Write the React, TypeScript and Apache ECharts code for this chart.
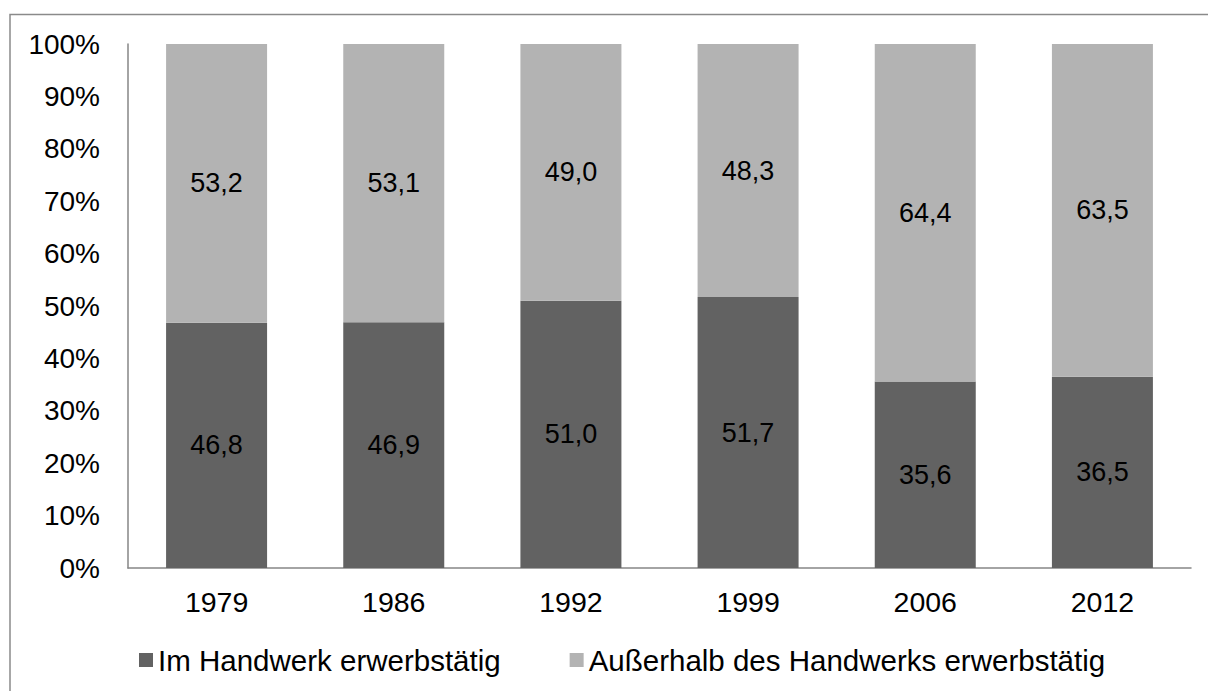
import React, { useEffect, useRef } from "react";
import * as echarts from "echarts";

const categories = ["1979", "1986", "1992", "1999", "2006", "2012"];
const imHandwerk = [46.8, 46.9, 51.0, 51.7, 35.6, 36.5];
const ausserhalb = [53.2, 53.1, 49.0, 48.3, 64.4, 63.5];
const yTicks = [0, 10, 20, 30, 40, 50, 60, 70, 80, 90, 100];
const seriesNames = ["Im Handwerk erwerbstätig", "Außerhalb des Handwerks erwerbstätig"];

const FONT = "'Liberation Sans', Arial, sans-serif";
const FS_AXIS = 28;
const FS_XAXIS = 28.5;
const FS_LABEL = 27;
const FS_LEGEND = 29.5;

export default function App() {
  const ref = useRef<HTMLDivElement>(null);
  useEffect(() => {
    document.body.style.margin = "0";
    const chart = echarts.init(ref.current!, null, { renderer: "svg" });
    const fmt = (p: any) => Number(p.value).toFixed(1).replace(".", ",");
    chart.setOption({
      animation: false,
      backgroundColor: "#ffffff",
      textStyle: { fontFamily: FONT },
      graphic: [
        {
          type: "rect",
          shape: { x: 10, y: 14.5, width: 1400, height: 900 },
          style: { fill: "none", stroke: "#8a8a8a", lineWidth: 1.5 },
          z: -10,
        },
      ],
      grid: { left: 128, right: 17, top: 44, bottom: 123, containLabel: false },
      xAxis: {
        type: "category",
        data: categories,
        axisLine: { show: true, lineStyle: { color: "#868686", width: 1.5 } },
        axisTick: { show: false },
        axisLabel: { color: "#000", fontSize: FS_XAXIS, fontFamily: FONT, margin: 19 },
      },
      yAxis: {
        type: "value",
        min: 0,
        max: 100,
        interval: 10,
        splitLine: { show: false },
        axisLine: { show: true, lineStyle: { color: "#868686", width: 1.5 } },
        axisTick: { show: false },
        axisLabel: {
          color: "#000",
          fontSize: FS_AXIS,
          fontFamily: FONT,
          margin: 28,
          formatter: (v: number) => (yTicks.includes(v) ? v + "%" : ""),
        },
      },
      legend: {
        left: 134,
        top: 640,
        itemWidth: 14,
        itemHeight: 14,
        itemGap: 69,
        icon: "rect",
        textStyle: { color: "#000", fontSize: FS_LEGEND, fontFamily: FONT },
        data: seriesNames,
      },
      series: [
        {
          name: seriesNames[0],
          type: "bar",
          stack: "total",
          data: imHandwerk,
          barWidth: 101,
          itemStyle: { color: "#626262" },
          label: { show: true, position: "inside", color: "#000", fontSize: FS_LABEL, fontFamily: FONT, formatter: fmt },
        },
        {
          name: seriesNames[1],
          type: "bar",
          stack: "total",
          data: ausserhalb,
          barWidth: 101,
          itemStyle: { color: "#b3b3b3" },
          label: { show: true, position: "inside", color: "#000", fontSize: FS_LABEL, fontFamily: FONT, formatter: fmt },
        },
      ],
    });
    return () => chart.dispose();
  }, []);
  return <div ref={ref} style={{ width: 1208, height: 691 }} />;
}
